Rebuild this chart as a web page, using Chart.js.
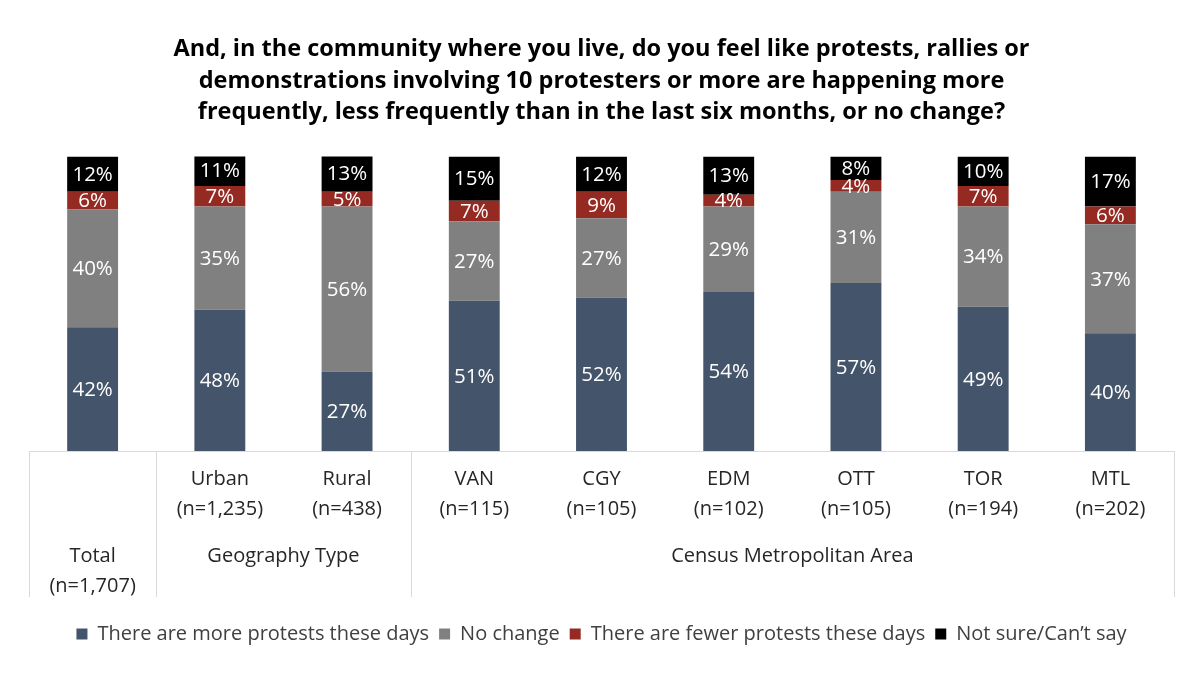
<!DOCTYPE html>
<html>
<head>
<meta charset="utf-8">
<script src="https://cdn.jsdelivr.net/npm/chart.js@4/dist/chart.umd.min.js"></script>
<style>
  html, body { margin: 0; padding: 0; background: #fff; }
  #wrap { width: 1200px; height: 673px; }
</style>
</head>
<body>
<div id="wrap"><canvas id="protestChart" width="1200" height="673"></canvas></div>
<script>
// --- Donnees du graphique ---
const categories = ['Total', 'Urban', 'Rural', 'VAN', 'CGY', 'EDM', 'OTT', 'TOR', 'MTL'];
const sampleSizes = ['(n=1,707)', '(n=1,235)', '(n=438)', '(n=115)', '(n=105)', '(n=102)', '(n=105)', '(n=194)', '(n=202)'];
const groupLabels = ['Geography Type', 'Census Metropolitan Area'];
const groupStart = [1, 3];
const groupEnd = [2, 8];

const moreProtests = [42, 48, 27, 51, 52, 54, 57, 49, 40];
const noChange = [40, 35, 56, 27, 27, 29, 31, 34, 37];
const fewerProtests = [6, 7, 5, 7, 9, 4, 4, 7, 6];
const notSure = [12, 11, 13, 15, 12, 13, 8, 10, 17];

const FONT = '"Open Sans", "Noto Sans", sans-serif';
const LINE_HEIGHT = 146;   // hauteur des separateurs sous l'axe
const AXIS_HEIGHT = 163;   // espace reserve sous le graphique

// --- Etiquettes dans les barres ---
const barLabels = {
    id: 'barLabels',
    afterDatasetsDraw(chart) {
        const ctx = chart.ctx;
        ctx.save();
        ctx.font = '20.5px ' + FONT;
        ctx.fillStyle = '#ffffff';
        ctx.textAlign = 'center';
        ctx.textBaseline = 'middle';
        chart.data.datasets.forEach(function (ds, di) {
            const meta = chart.getDatasetMeta(di);
            meta.data.forEach(function (bar, i) {
                const yMid = (bar.y + bar.base) / 2;
                ctx.fillText(ds.data[i] + '%', bar.x, yMid + 1);
            });
        });
        ctx.restore();
    }
};

// --- Axe X a plusieurs niveaux ---
const multiLevelAxis = {
    id: 'multiLevelAxis',
    afterDraw(chart) {
        const ctx = chart.ctx;
        const xs = chart.scales.x;
        const area = chart.chartArea;
        const step = xs.getPixelForValue(1) - xs.getPixelForValue(0);
        const edge = i => xs.getPixelForValue(i) - step / 2;
        const top = area.bottom;

        ctx.save();
        ctx.strokeStyle = '#d9d9d9';
        ctx.lineWidth = 1;
        ctx.beginPath();
        ctx.moveTo(edge(0), top + 0.5);
        ctx.lineTo(edge(categories.length), top + 0.5);
        [0, 1, 3, categories.length].forEach(function (b) {
            const x = Math.round(edge(b)) + 0.5;
            ctx.moveTo(x, top);
            ctx.lineTo(x, top + LINE_HEIGHT);
        });
        ctx.stroke();

        ctx.font = '20px ' + FONT;
        ctx.fillStyle = '#262626';
        ctx.textAlign = 'center';
        ctx.textBaseline = 'middle';
        categories.forEach(function (c, i) {
            const x = xs.getPixelForValue(i);
            if (i === 0) {
                ctx.fillText(c, x, top + 105);
                ctx.fillText(sampleSizes[i], x, top + 135);
            } else {
                ctx.fillText(c, x, top + 28);
                ctx.fillText(sampleSizes[i], x, top + 58);
            }
        });
        groupLabels.forEach(function (g, k) {
            const x = (edge(groupStart[k]) + edge(groupEnd[k] + 1)) / 2;
            ctx.fillText(g, x, top + 105);
        });
        ctx.restore();
    }
};

const ctx = document.getElementById('protestChart').getContext('2d');

new Chart(ctx, {
    type: 'bar',
    data: {
        labels: categories,
        datasets: [
            { label: 'There are more protests these days', data: moreProtests, backgroundColor: '#44546a' },
            { label: 'No change', data: noChange, backgroundColor: '#808080' },
            { label: 'There are fewer protests these days', data: fewerProtests, backgroundColor: '#952a22' },
            { label: 'Not sure/Can\u2019t say', data: notSure, backgroundColor: '#000000' }
        ]
    },
    options: {
        responsive: false,
        animation: false,
        devicePixelRatio: 1,
        layout: { padding: { left: 29, right: 26, top: 0, bottom: 19 } },
        datasets: { bar: { categoryPercentage: 1, barPercentage: 0.4 } },
        scales: {
            x: {
                stacked: true,
                grid: { display: false },
                border: { display: false },
                ticks: { display: false },
                afterFit: function (s) { s.height = AXIS_HEIGHT; }
            },
            y: {
                stacked: true,
                min: 0,
                max: 100,
                display: false
            }
        },
        plugins: {
            title: {
                display: true,
                text: [
                    'And, in the community where you live, do you feel like protests, rallies or',
                    'demonstrations involving 10 protesters or more are happening more',
                    'frequently, less frequently than in the last six months, or no change?'
                ],
                color: '#000000',
                font: { family: FONT, size: 23.5, weight: 'bold', lineHeight: 1.34 },
                padding: { top: 34, bottom: 28 }
            },
            legend: {
                position: 'bottom',
                labels: {
                    color: '#404040',
                    font: { family: FONT, size: 20 },
                    boxWidth: 11,
                    boxHeight: 11,
                    padding: 10
                }
            },
            tooltip: { enabled: false }
        }
    },
    plugins: [barLabels, multiLevelAxis]
});
</script>
</body>
</html>
